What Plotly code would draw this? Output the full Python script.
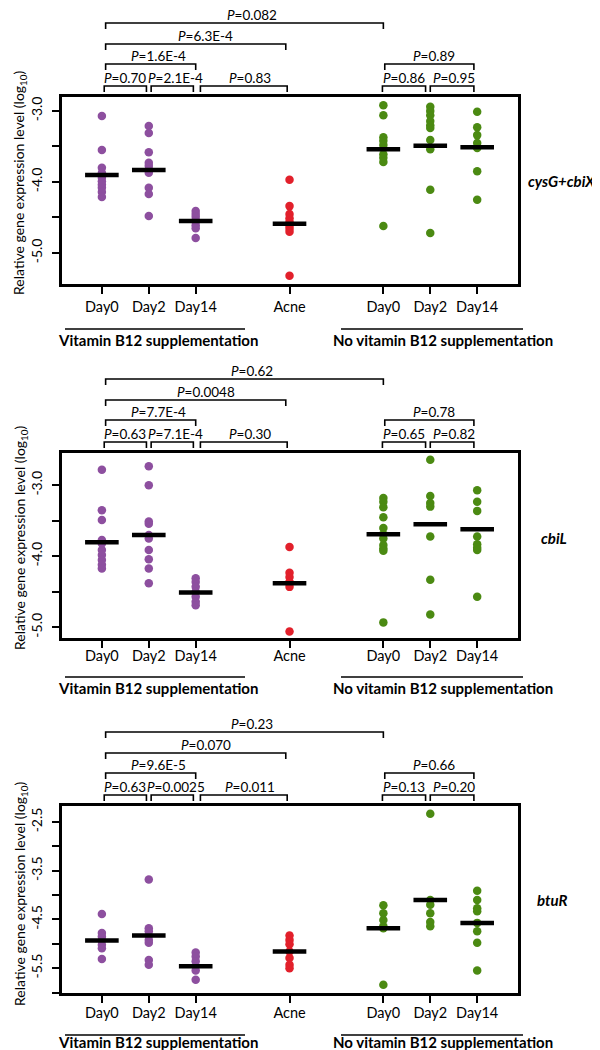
import plotly.graph_objects as go

# ---------------- data ----------------
group_labels = ["Day0", "Day2", "Day14", "Acne", "Day0", "Day2", "Day14"]
gene_names = ["cysG+cbiX", "cbiL", "btuR"]
section_labels = ["Vitamin B12 supplementation", "No vitamin B12 supplementation"]

# cysG+cbiX
cys_day0_b12 = [-3.07, -3.55, -3.80, -3.87, -3.94, -3.99, -4.04, -4.08, -4.14, -4.21]
cys_day2_b12 = [-3.21, -3.31, -3.58, -3.73, -3.77, -3.82, -3.87, -4.08, -4.17, -4.48]
cys_day14_b12 = [-4.41, -4.45, -4.49, -4.54, -4.56, -4.61, -4.65, -4.79]
cys_acne = [-3.97, -4.34, -4.45, -4.51, -4.56, -4.62, -4.66, -4.70, -5.32]
cys_day0_no = [-2.92, -3.06, -3.37, -3.42, -3.48, -3.61, -3.66, -3.72, -4.62]
cys_day2_no = [-2.94, -3.00, -3.06, -3.14, -3.20, -3.24, -3.41, -3.54, -4.11, -4.72]
cys_day14_no = [-3.01, -3.23, -3.34, -3.45, -3.52, -3.85, -4.25]
cys_means = [-3.90, -3.83, -4.55, -4.59, -3.54, -3.49, -3.51]
cys_p = ["0.70", "2.1E-4", "0.83", "1.6E-4", "6.3E-4", "0.082", "0.86", "0.95", "0.89"]

# cbiL
cbi_day0_b12 = [-2.78, -3.35, -3.49, -3.77, -3.82, -3.91, -3.98, -4.05, -4.12, -4.17]
cbi_day2_b12 = [-2.73, -3.00, -3.51, -3.54, -3.70, -3.75, -3.91, -4.04, -4.17, -4.38]
cbi_day14_b12 = [-4.31, -4.36, -4.43, -4.50, -4.57, -4.64, -4.69]
cbi_acne = [-3.87, -4.23, -4.29, -4.36, -4.38, -4.43, -5.06]
cbi_day0_no = [-3.18, -3.23, -3.31, -3.45, -3.60, -3.69, -3.75, -3.84, -3.89, -3.92, -4.93]
cbi_day2_no = [-2.64, -3.15, -3.25, -3.30, -3.72, -4.33, -4.82]
cbi_day14_no = [-3.07, -3.23, -3.36, -3.72, -3.83, -3.88, -3.91, -4.57]
cbi_means = [-3.80, -3.70, -4.51, -4.38, -3.69, -3.55, -3.62]
cbi_p = ["0.63", "7.1E-4", "0.30", "7.7E-4", "0.0048", "0.62", "0.65", "0.82", "0.78"]

# btuR
btu_day0_b12 = [-4.39, -4.78, -4.85, -4.93, -5.02, -5.09, -5.31]
btu_day2_b12 = [-3.68, -4.68, -4.74, -4.83, -4.92, -4.98, -5.33, -5.43]
btu_day14_b12 = [-5.18, -5.26, -5.36, -5.46, -5.55, -5.74]
btu_acne = [-4.83, -4.92, -5.01, -5.16, -5.29, -5.43, -5.50]
btu_day0_no = [-4.21, -4.37, -4.51, -4.64, -4.68, -5.84]
btu_day2_no = [-2.33, -4.10, -4.20, -4.37, -4.55, -4.64]
btu_day14_no = [-3.91, -4.10, -4.27, -4.33, -4.57, -4.74, -4.98, -5.55]
btu_means = [-4.93, -4.83, -5.46, -5.16, -4.68, -4.10, -4.57]
btu_p = ["0.63", "0.0025", "0.011", "9.6E-5", "0.070", "0.23", "0.13", "0.20", "0.66"]

cys_ticks = [-3.0, -4.0, -5.0]
cys_ticktext = ["-3.0", "-4.0", "-5.0"]
cbi_ticks = [-3.0, -4.0, -5.0]
cbi_ticktext = ["-3.0", "-4.0", "-5.0"]
btu_ticks = [-2.5, -3.5, -4.5, -5.5]
btu_ticktext = ["-2.5", "-3.5", "-4.5", "-5.5"]

# ---------------- layout / style ----------------
W, H = 600, 1050
FONT = "Lato"
PURPLE, RED, GREEN = "#8d4f9f", "#e2202b", "#4b8a12"
group_colors = [PURPLE, PURPLE, PURPLE, RED, GREEN, GREEN, GREEN]
x_pos = [1, 2, 3, 5, 7, 8, 9]

def fx(p):
    return p / W

def fy(p):
    return 1 - p / H

panels = [
    dict(groups=[cys_day0_b12, cys_day2_b12, cys_day14_b12, cys_acne, cys_day0_no, cys_day2_no, cys_day14_no],
         means=cys_means, p=cys_p, top=89, bottom=276, yr=[-5.437, -2.803],
         tv=cys_ticks, tt=cys_ticktext, gene=gene_names[0], gx=553, gy=173, lab=26, ul=45, gl=56, title_y=175),
    dict(groups=[cbi_day0_b12, cbi_day2_b12, cbi_day14_b12, cbi_acne, cbi_day0_no, cbi_day2_no, cbi_day14_no],
         means=cbi_means, p=cbi_p, top=445, bottom=630, yr=[-5.15, -2.545],
         tv=cbi_ticks, tt=cbi_ticktext, gene=gene_names[1], gx=546, gy=530, lab=21, ul=39, gl=50, title_y=530),
    dict(groups=[btu_day0_b12, btu_day2_b12, btu_day14_b12, btu_acne, btu_day0_no, btu_day2_no, btu_day14_no],
         means=btu_means, p=btu_p, top=798, bottom=985, yr=[-6.01, -2.17],
         tv=btu_ticks, tt=btu_ticktext, gene=gene_names[2], gx=544, gy=892, lab=23, ul=42, gl=49, title_y=886),
]

# bracket geometry: (x0, x1, level, label x)
brackets = [
    (1.05, 1.95, 1, 1.49), (2.05, 2.95, 1, 2.57), (3.10, 4.95, 1, 4.15),
    (1.08, 3.00, 2, 2.21), (1.08, 4.92, 3, 3.21), (1.08, 7.00, 4, 4.19),
    (6.98, 7.90, 1, 7.45), (8.00, 8.93, 1, 8.51), (7.03, 8.93, 2, 8.07),
]
level_px = {1: 11, 2: 33, 3: 53, 4: 74}

fig = go.Figure()
shapes = []
annotations = []
layout_axes = {}

for i, pn in enumerate(panels):
    n = "" if i == 0 else str(i + 1)
    xr, yr_ = "x" + n, "y" + n
    for g, vals in enumerate(pn["groups"]):
        fig.add_trace(go.Scatter(
            x=[x_pos[g]] * len(vals), y=vals, xaxis=xr, yaxis=yr_, mode="markers",
            marker=dict(size=8.5, color=group_colors[g], line=dict(width=0)),
            showlegend=False, hoverinfo="y"))
    fig.add_trace(go.Scatter(
        x=x_pos, y=pn["means"], xaxis=xr, yaxis=yr_, mode="markers",
        marker=dict(symbol="line-ew", size=24, line=dict(width=4.5, color="black")),
        showlegend=False, hoverinfo="y"))

    layout_axes["xaxis" + n] = dict(
        domain=[fx(54), fx(510)], anchor=yr_, range=[0.15, 9.87],
        tickvals=x_pos, ticktext=group_labels, ticks="outside", ticklen=7, tickwidth=1.5,
        tickcolor="black", showline=True, mirror=True, linewidth=3, linecolor="black",
        showgrid=False, zeroline=False, tickfont=dict(family=FONT, size=14.5, color="black"),
        ticklabelstandoff=pn["lab"] - 25, fixedrange=True)
    layout_axes["yaxis" + n] = dict(
        domain=[fy(pn["bottom"]), fy(pn["top"])], anchor=xr, range=pn["yr"],
        tickvals=pn["tv"], ticktext=pn["tt"], ticks="outside", ticklen=7, tickwidth=1.5,
        tickcolor="black", tickangle=-90, showline=True, mirror=True, linewidth=3,
        linecolor="black", showgrid=False, zeroline=False,
        minor=dict(ticks="outside", ticklen=7, tickwidth=1.5, tickcolor="black",
                   dtick=0.5, tick0=0, showgrid=False),
        tickfont=dict(family=FONT, size=14, color="black"), ticklabelstandoff=4, fixedrange=True)

    # brackets with p-values
    for b, (x0, x1, lvl, lx) in enumerate(brackets):
        yt = fy(pn["top"] - level_px[lvl])
        yb = fy(pn["top"] - level_px[lvl] + 6)
        shapes.append(dict(type="path", xref=xr, yref="paper",
                           path=f"M {x0},{yb} L {x0},{yt} L {x1},{yt} L {x1},{yb}",
                           line=dict(color="black", width=1.6)))
        annotations.append(dict(x=lx, y=fy(pn["top"] - level_px[lvl] - 8), xref=xr, yref="paper",
                                text="<i>P</i>=" + pn["p"][b], showarrow=False,
                                font=dict(family=FONT, size=13.5, color="black"),
                                xanchor="center", yanchor="middle"))

    # section underlines and labels
    yl = fy(pn["bottom"] + pn["ul"])
    shapes.append(dict(type="line", xref="paper", yref="paper", x0=fx(57), x1=fx(237), y0=yl, y1=yl,
                       line=dict(color="black", width=1.5)))
    shapes.append(dict(type="line", xref="paper", yref="paper", x0=fx(333), x1=fx(515), y0=yl, y1=yl,
                       line=dict(color="black", width=1.5)))
    for sx, stext in zip([150, 435], section_labels):
        annotations.append(dict(x=fx(sx), y=fy(pn["bottom"] + pn["gl"]), xref="paper", yref="paper",
                                text="<b>" + stext + "</b>", showarrow=False,
                                font=dict(family=FONT, size=15, color="black"),
                                xanchor="center", yanchor="middle", borderpad=0))
    # gene label
    annotations.append(dict(x=fx(pn["gx"]), y=fy(pn["gy"]), xref="paper", yref="paper",
                            text="<b><i>" + pn["gene"] + "</i></b>", showarrow=False,
                            font=dict(family=FONT, size=15, color="black"),
                            xanchor="center", yanchor="middle"))
    # y-axis title
    annotations.append(dict(x=fx(12), y=fy(pn["title_y"]), xref="paper", yref="paper",
                            text="Relative gene expression level (log<sub>10</sub>)", textangle=-90,
                            showarrow=False, font=dict(family=FONT, size=14, color="black"),
                            xanchor="center", yanchor="middle"))

fig.update_layout(
    width=W, height=H, margin=dict(l=0, r=0, t=0, b=0),
    paper_bgcolor="white", plot_bgcolor="white",
    font=dict(family=FONT, color="black"),
    shapes=shapes, annotations=annotations, showlegend=False, **layout_axes)

fig.write_html("out.html")
